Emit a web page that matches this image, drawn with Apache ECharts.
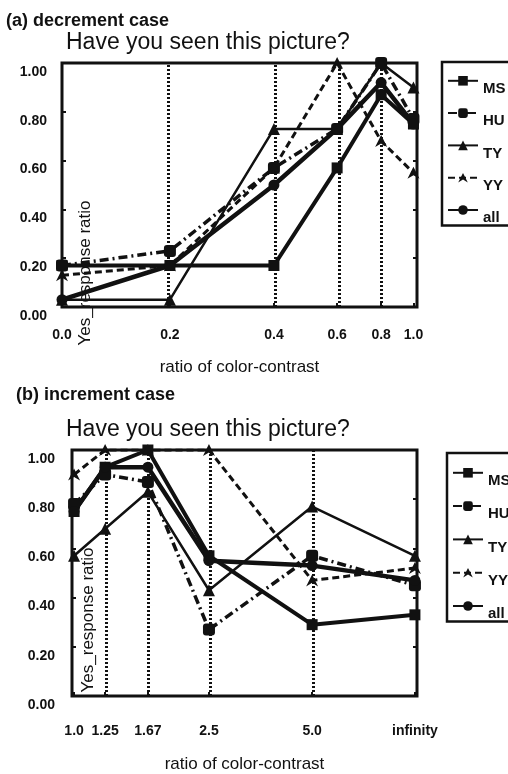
<html lang="en">
<head>
    <meta charset="UTF-8">
    <title>yes_response_ratio</title>
    <style>html, body { margin: 0; padding: 0; background: #fff; }</style>
</head>
<body>
<div id="main" style="width: 508px; height: 774px;"></div>
<script src="https://cdn.jsdelivr.net/npm/echarts@6.0.0/dist/echarts.min.js"></script>
<script>
// (a) decrement case
var catsA = ['0.0', '0.2', '0.4', '0.6', '0.8', '1.0'];
var xPosA = [0, 0.304, 0.597, 0.775, 0.899, 0.99];   // uneven spacing of the x scale
var msA  = [0.17, 0.17, 0.17, 0.57, 0.87, 0.75];
var huA  = [0.17, 0.23, 0.57, 0.73, 1.00, 0.77];
var tyA  = [0.03, 0.03, 0.73, 0.73, 1.00, 0.90];
var yyA  = [0.13, 0.17, 0.57, 1.00, 0.68, 0.55];
var allA = [0.03, 0.17, 0.50, 0.73, 0.92, 0.75];

// (b) increment case
var catsB = ['1.0', '1.25', '1.67', '2.5', '5.0', 'infinity'];
var xPosB = [0.006, 0.096, 0.22, 0.397, 0.696, 0.994];
var msB  = [0.75, 0.93, 1.00, 0.57, 0.29, 0.33];
var huB  = [0.78, 0.90, 0.87, 0.27, 0.57, 0.45];
var tyB  = [0.57, 0.68, 0.83, 0.43, 0.77, 0.57];
var yyB  = [0.90, 1.00, 1.00, 1.00, 0.47, 0.52];
var allB = [0.75, 0.93, 0.93, 0.55, 0.53, 0.47];

var names = ['MS', 'HU', 'TY', 'YY', 'all'];
var FONT = '"Liberation Sans", Arial, sans-serif';

var ele = document.getElementById('main');
var myCharts = echarts.init(ele);

function pts(pos, vals) {
    return vals.map(function (v, i) { return [pos[i], v]; });
}

// look of each subject's line
var looks = {
    MS:  { symbol: 'rect', size: 11, width: 4, type: 'solid' },
    HU:  { symbol: 'roundRect', size: 12, width: 3.5, type: [9, 4, 2, 4] },
    TY:  { symbol: 'triangle', size: 12, width: 2.5, type: 'solid' },
    YY:  { symbol: 'path://M5,0 L10,10 L5,7 L0,10 Z', size: 12, width: 3, type: [7, 4] },
    all: { symbol: 'circle', size: 11, width: 4.5, type: 'solid' }
};

function makeSeries(idx, pos, lists) {
    return names.map(function (n, k) {
        var lk = looks[n];
        var s = {
            name: n,
            type: 'line',
            xAxisIndex: idx,
            yAxisIndex: idx * 2,
            data: pts(pos, lists[k]),
            symbol: lk.symbol,
            symbolSize: lk.size,
            itemStyle: { color: '#111' },
            lineStyle: { color: '#111', width: lk.width, type: lk.type },
            animation: false,
            z: 3
        };
        if (k == 0) {
            s.markLine = {
                silent: true,
                symbol: ['none', 'none'],
                label: { show: false },
                lineStyle: { color: '#111', type: [2, 2], width: 3 },
                data: pos.slice(1, 5).map(function (p) { return { xAxis: p }; }),
                z: 1
            };
        }
        return s;
    });
}

function xAx(idx, pos, cats, gap) {
    return {
        gridIndex: idx, type: 'value', min: 0, max: 1,
        axisLine: { show: false },
        splitLine: { show: false },
        axisTick: { show: true, inside: true, length: 4, customValues: pos, lineStyle: { color: '#111', width: 2 } },
        axisLabel: {
            customValues: pos,
            formatter: function (v) { var i = pos.indexOf(v); return i < 0 ? '' : cats[i]; },
            margin: idx == 0 ? 21 : 28,
            color: '#111', fontSize: 14, fontWeight: 'bold', fontFamily: FONT
        },
        name: 'ratio of color-contrast',
        nameLocation: 'middle',
        nameGap: gap,
        nameTextStyle: { color: '#111', fontSize: 17, fontFamily: FONT }
    };
}

function yAx(idx, side) {
    return {
        gridIndex: idx, type: 'value', min: 0, max: 1, interval: 0.2,
        position: side,
        axisLine: { show: false },
        splitLine: { show: false },
        axisTick: { show: true, inside: true, length: 4, lineStyle: { color: '#111', width: 2 } },
        axisLabel: {
            show: side == 'left',
            formatter: function (v) { return v.toFixed(2); },
            margin: idx == 0 ? 15 : 17,
            verticalAlign: 'top',
            lineHeight: 18,
            color: '#111', fontSize: 14, fontWeight: 'bold', fontFamily: FONT
        }
    };
}

function legendBox(top, left, gap, padTop) {
    return {
        data: names, orient: 'vertical', left: left, top: top,
        itemWidth: 30, itemHeight: 12, itemGap: gap,
        padding: [padTop, 40, 0, 5],
        borderColor: '#111', borderWidth: 2.5,
        selectedMode: false,
        formatter: '{s|{name}}',
        textStyle: {
            color: '#111', fontSize: 15, fontWeight: 'bold', fontFamily: FONT,
            rich: { s: { fontSize: 15, fontWeight: 'bold', fontFamily: FONT, color: '#111', padding: [16, 0, 0, 0] } }
        }
    };
}

var option = {
    backgroundColor: '#fff',
    title: [
        { text: '(a) decrement case', left: 6, top: 12, padding: 0,
          textStyle: { fontSize: 18, fontWeight: 'bold', color: '#111', fontFamily: FONT } },
        { text: 'Have you seen this picture?', left: 66, top: 31, padding: 0,
          textStyle: { fontSize: 23, fontWeight: 'normal', color: '#111', fontFamily: FONT } },
        { text: '(b) increment case', left: 16, top: 386, padding: 0,
          textStyle: { fontSize: 18, fontWeight: 'bold', color: '#111', fontFamily: FONT } },
        { text: 'Have you seen this picture?', left: 66, top: 418, padding: 0,
          textStyle: { fontSize: 23, fontWeight: 'normal', color: '#111', fontFamily: FONT } }
    ],
    grid: [
        { left: 62, top: 63, width: 355, height: 244, show: true, borderColor: '#111', borderWidth: 3 },
        { left: 72, top: 450, width: 345, height: 250, show: true, borderColor: '#111', borderWidth: 3 }
    ],
    legend: [legendBox(62, 442, 12, 14), legendBox(453, 447, 13, 15)],
    xAxis: [xAx(0, xPosA, catsA, 52), xAx(1, xPosB, catsB, 60)],
    yAxis: [yAx(0, 'left'), yAx(0, 'right'), yAx(1, 'left'), yAx(1, 'right')],
    graphic: [
        { type: 'text', x: 85, y: 273, rotation: Math.PI / 2, z: 0,
          style: { text: 'Yes_response ratio', fontSize: 17, fontFamily: FONT, fill: '#111', align: 'center', verticalAlign: 'middle' } },
        { type: 'text', x: 88, y: 620, rotation: Math.PI / 2, z: 0,
          style: { text: 'Yes_response ratio', fontSize: 17, fontFamily: FONT, fill: '#111', align: 'center', verticalAlign: 'middle' } }
    ],
    series: makeSeries(0, xPosA, [msA, huA, tyA, yyA, allA])
        .concat(makeSeries(1, xPosB, [msB, huB, tyB, yyB, allB]))
};
myCharts.setOption(option);
</script>
</body>
</html>
